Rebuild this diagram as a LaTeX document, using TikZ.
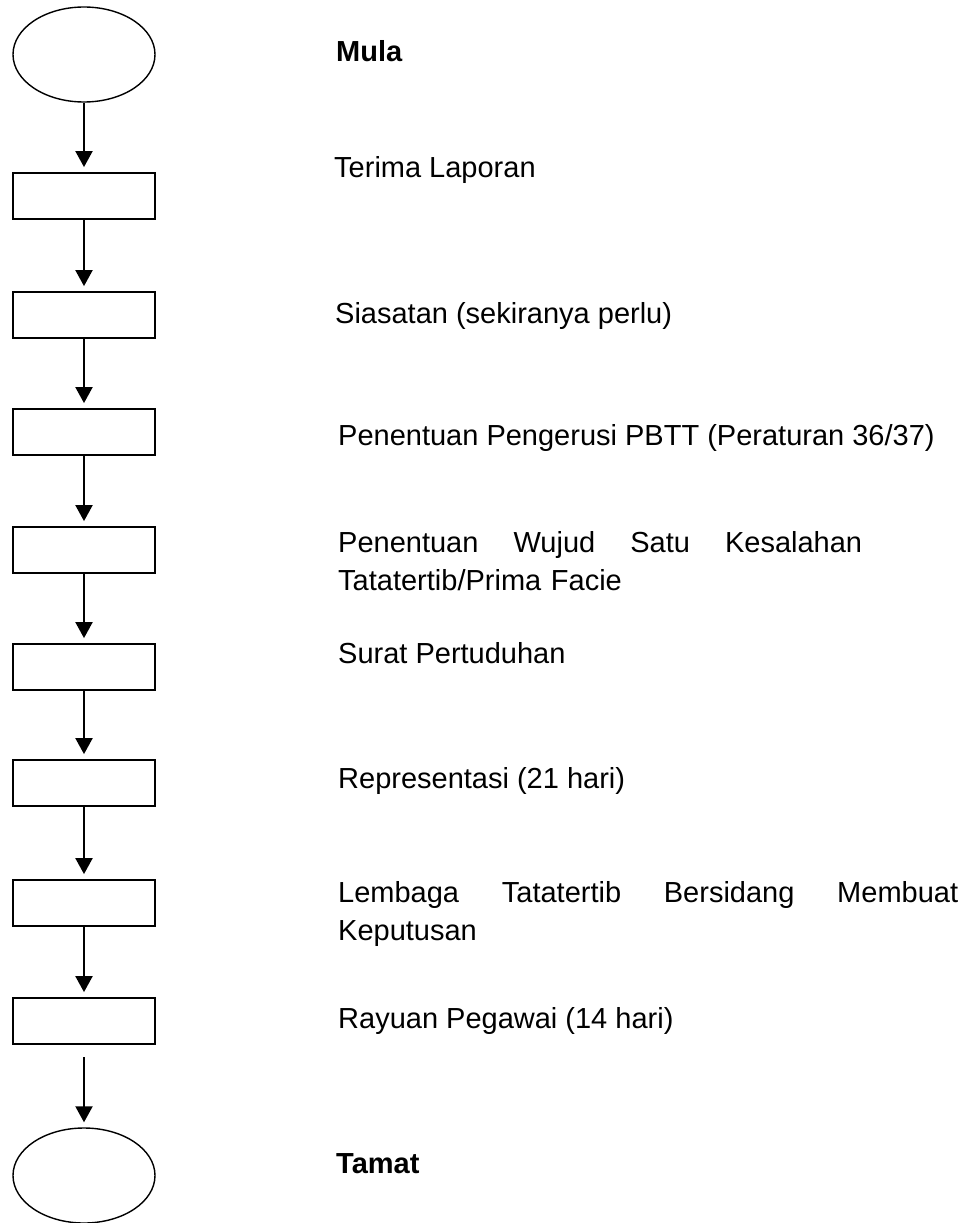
\documentclass[tikz,border=0pt]{standalone}
\usepackage{fontspec}
\setmainfont{Liberation Sans}
\usetikzlibrary{arrows.meta,shapes.geometric}
\tikzset{
	>={Triangle[width=17pt,length=16pt]},
}

\begin{document}
\begin{tikzpicture}[x=1pt,y=-1pt,
endpoint/.style = {ellipse, draw, line width=1.4pt, minimum width=142pt, minimum height=95pt, inner sep=0},
stepbox/.style = {rectangle, draw, line width=1.8pt, minimum width=142pt, minimum height=46pt, inner sep=0},
flow/.style = {<-, line width=2pt, shorten <=5pt},
steptext/.style = {anchor=base west, inner sep=0, align=left, font=\fontsize{29}{38}\selectfont}]
\useasboundingbox (0,0) rectangle (964,1223);
\node[endpoint] (mulapoint) at (84,54.5) {};
\node[steptext,font=\fontsize{29}{38}\selectfont\bfseries] (mulalabel) at (336,62) {Mula};
\node[stepbox] (laporanbox) at (84,196) {}
	edge[flow] (mulapoint);
\node[steptext] (laporanlabel) at (334,177) {Terima Laporan};
\node[stepbox] (siasatanbox) at (84,315) {}
	edge[flow] (laporanbox);
\node[steptext] (siasatanlabel) at (335,323) {Siasatan (sekiranya perlu)};
\node[stepbox] (pengerusibox) at (84,432) {}
	edge[flow] (siasatanbox);
\node[steptext] (pengerusilabel) at (338,445) {Penentuan Pengerusi PBTT (Peraturan 36/37)};
\node[stepbox] (wujudbox) at (84,550) {}
	edge[flow] (pengerusibox);
\node[steptext,text width=524pt] (wujudlabel) at (338,552)
	{Penentuan\hfill Wujud\hfill Satu\hfill Kesalahan\\Tatatertib/Prima Facie};
\node[stepbox] (pertuduhanbox) at (84,667) {}
	edge[flow] (wujudbox);
\node[steptext] (pertuduhanlabel) at (338,663) {Surat Pertuduhan};
\node[stepbox] (representasibox) at (84,783) {}
	edge[flow] (pertuduhanbox);
\node[steptext] (representasilabel) at (338,788) {Representasi (21 hari)};
\node[stepbox] (lembagabox) at (84,903) {}
	edge[flow] (representasibox);
\node[steptext,text width=620pt] (lembagalabel) at (338,902)
	{Lembaga\hfill Tatatertib\hfill Bersidang\hfill Membuat\\Keputusan};
\node[stepbox] (rayuanbox) at (84,1021) {}
	edge[flow] (lembagabox);
\node[steptext] (rayuanlabel) at (338,1028) {Rayuan Pegawai (14 hari)};
\node[endpoint] (tamatpoint) at (84,1175.5) {}
	edge[flow,shorten >=12pt] (rayuanbox);
\node[steptext,font=\fontsize{29}{38}\selectfont\bfseries] (tamatlabel) at (336,1173) {Tamat};
\end{tikzpicture}
\end{document}
